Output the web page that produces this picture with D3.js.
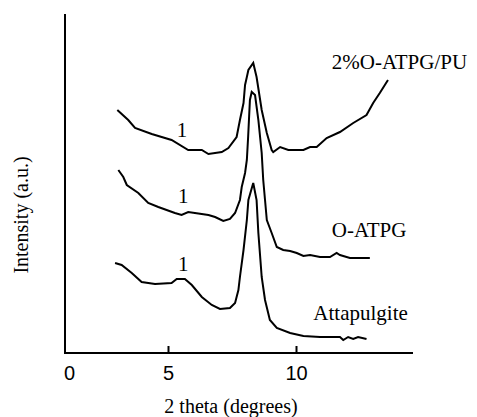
<!DOCTYPE html>
<html lang="en">
<head>
    <meta charset="UTF-8">
    <title>XRD patterns</title>
    <style>
        body { margin: 0; padding: 0; background: #fff; }
        svg { display: block; }
        .serif { font-family: "Liberation Serif", "Times New Roman", serif; fill: #000; }
        .tick text { font-family: "Liberation Sans", Arial, sans-serif; font-size: 20px; fill: #000; }
    </style>
</head>
<body>
    <div id="chart"></div>
    <script src="https://d3js.org/d3.v7.min.js"></script>
    <script>
        // 2 theta (degrees) / intensity (arbitrary units, offset per curve)
        const puTheta = [2.54, 3.07, 3.40, 4.21, 5.14, 5.79, 6.32, 6.58, 7.10, 7.36, 7.68, 7.81, 7.95, 8.01, 8.08, 8.14, 8.33,
            8.46, 8.66, 8.86, 9.05, 9.11, 9.38, 9.70, 10.29, 10.55, 10.81, 11.20, 11.72, 12.24, 12.76, 13.02, 13.28, 13.60];
        const puIntensity = [243, 233, 225, 219, 213, 203, 203, 199, 201, 205, 216, 233, 250, 268, 276, 283, 290,
            276, 243, 220, 203, 201, 206, 203, 203, 206, 206, 215, 221, 230, 238, 250, 260, 273];

        const oatpgTheta = [2.59, 2.83, 3.00, 3.56, 4.04, 4.53, 5.27, 5.53, 5.79, 6.05, 6.58, 6.84, 7.16, 7.42, 7.62, 7.81, 7.88,
            8.01, 8.08, 8.13, 8.20, 8.27, 8.40, 8.53, 8.66, 8.72, 8.79, 8.86, 9.05, 9.25, 9.50, 9.77, 10.03, 10.29, 10.55,
            10.94, 11.33, 11.59, 11.72, 12.11, 12.89];
        const oatpgIntensity = [183, 176, 168, 160, 150, 146, 140, 138, 141, 140, 138, 136, 132, 134, 140, 153, 166,
            180, 193, 216, 253, 261, 258, 233, 200, 173, 153, 133, 120, 106, 103, 102, 100, 97, 98,
            96, 96, 100, 98, 95, 95];

        const attTheta = [2.43, 2.75, 3.24, 3.72, 4.37, 5.14, 5.34, 5.66, 5.93, 6.32, 6.71, 7.03, 7.42, 7.62, 7.75, 7.81, 7.95,
            8.08, 8.14, 8.33, 8.46, 8.53, 8.66, 8.79, 8.98, 9.25, 9.77, 10.29, 10.94, 11.72, 11.85, 12.04, 12.24, 12.43, 12.76];
        const attIntensity = [90, 88, 80, 71, 69, 70, 74, 74, 68, 56, 48, 44, 45, 50, 63, 76, 103,
            133, 153, 170, 153, 120, 76, 53, 33, 25, 20, 17, 16, 16, 13, 16, 14, 16, 14];

        const seriesNames = ['2%O-ATPG/PU', 'O-ATPG', 'Attapulgite'];
        const xTicks = [0, 5, 10];
        // position of the small "1" reflection label on each curve (theta, intensity)
        const peakLabelTheta = [5.55, 5.6, 5.6];
        const peakLabelIntensity = [216, 150, 82];
        // name label anchor (theta, intensity)
        const nameTheta = [11.4, 11.4, 10.68];
        const nameIntensity = [284, 116, 33];

        const series = [
            { name: seriesNames[0], theta: puTheta, intensity: puIntensity },
            { name: seriesNames[1], theta: oatpgTheta, intensity: oatpgIntensity },
            { name: seriesNames[2], theta: attTheta, intensity: attIntensity }
        ];

        const width = 477, height = 417;

        const svg = d3.select('#chart').append('svg')
            .attr('width', width)
            .attr('height', height);

        // the original figure's axis is not uniform between 0 and 5
        const x = d3.scaleLinear()
            .domain([0, 5, 10, 13.64])
            .range([65, 168, 296, 389]);
        const y = d3.scaleLinear()
            .domain([0, 340])
            .range([353, 13]);

        // x axis
        const xAxis = svg.append('g')
            .attr('transform', `translate(0,${y(0)})`)
            .call(d3.axisBottom(x).tickValues(xTicks).tickSize(-7).tickPadding(13).tickFormat(d3.format('d')));
        xAxis.select('.domain').remove();
        xAxis.selectAll('.tick line').attr('stroke', '#000').attr('stroke-width', 2)
            .filter(d => d === 0).remove();
        xAxis.selectAll('.tick text').attr('dx', d => d === 0 ? 4 : 0);
        svg.append('line')
            .attr('x1', 64).attr('x2', 413)
            .attr('y1', y(0)).attr('y2', y(0))
            .attr('stroke', '#000').attr('stroke-width', 2);

        // y axis (no ticks)
        svg.append('line')
            .attr('x1', 65).attr('x2', 65)
            .attr('y1', 14).attr('y2', y(0) + 1)
            .attr('stroke', '#000').attr('stroke-width', 2);

        const line = d3.line()
            .x(d => x(d[0]))
            .y(d => y(d[1]));

        series.forEach((s, i) => {
            svg.append('path')
                .datum(s.theta.map((t, j) => [t, s.intensity[j]]))
                .attr('fill', 'none')
                .attr('stroke', '#000')
                .attr('stroke-width', 2)
                .attr('stroke-linejoin', 'miter')
                .attr('d', line);

            svg.append('text')
                .attr('class', 'serif')
                .attr('x', x(peakLabelTheta[i]))
                .attr('y', y(peakLabelIntensity[i]))
                .attr('text-anchor', 'middle')
                .style('font-size', '21px')
                .text('1');

            svg.append('text')
                .attr('class', 'serif')
                .attr('x', x(nameTheta[i]))
                .attr('y', y(nameIntensity[i]))
                .style('font-size', '21px')
                .text(s.name);
        });

        // axis titles
        svg.append('text')
            .attr('class', 'serif')
            .attr('x', 231)
            .attr('y', 413)
            .attr('text-anchor', 'middle')
            .style('font-size', '20px')
            .text('2 theta (degrees)');

        svg.append('text')
            .attr('class', 'serif')
            .attr('transform', 'translate(28,215) rotate(-90)')
            .attr('text-anchor', 'middle')
            .style('font-size', '20px')
            .text('Intensity (a.u.)');
    </script>
</body>
</html>
